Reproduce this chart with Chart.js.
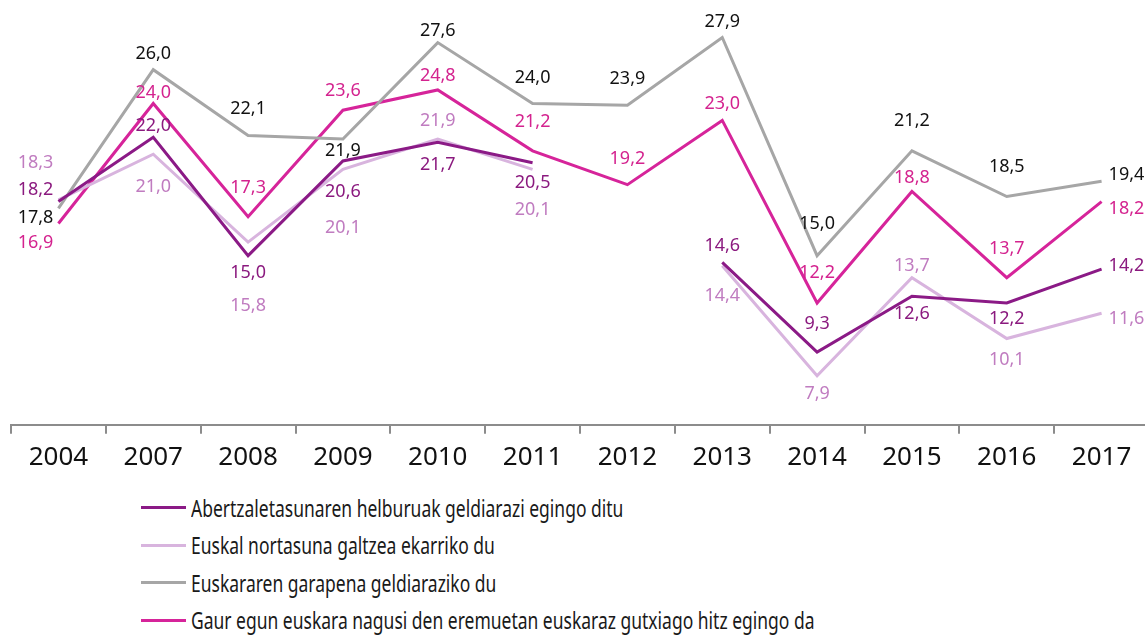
<!DOCTYPE html>
<html>
<head>
<meta charset="utf-8">
<script src="https://cdn.jsdelivr.net/npm/chart.js@4"></script>
<style>
  html, body { margin: 0; padding: 0; background: #fff; overflow: hidden; }
  #wrap { position: relative; width: 1150px; height: 481px; }
  #legend { margin: 8px 0 0 141px; font-family: "Noto Sans", "DejaVu Sans Condensed", sans-serif; font-size: 23px; color: #1a1a1a; }
  #legend div { display: flex; align-items: center; height: 37.5px; white-space: nowrap; }
  #legend span.line { display: inline-block; width: 45px; height: 3px; margin-right: 5px; flex: none; }
  #legend span.txt { display: inline-block; transform: scaleX(0.76); transform-origin: left center; }
</style>
</head>
<body>
<div id="wrap"><canvas id="lineChart"></canvas></div>
<div id="legend"></div>
<script>
const FONT = '"Noto Sans", "DejaVu Sans Condensed", sans-serif';

const years = ['2004', '2007', '2008', '2009', '2010', '2011', '2012', '2013', '2014', '2015', '2016', '2017'];

const abertzaletasuna = [18.2, 22.0, 15.0, 20.6, 21.7, 20.5, null, 14.6, 9.3, 12.6, 12.2, 14.2];
const nortasuna = [18.3, 21.0, 15.8, 20.1, 21.9, 20.1, null, 14.4, 7.9, 13.7, 10.1, 11.6];
const garapena = [17.8, 26.0, 22.1, 21.9, 27.6, 24.0, 23.9, 27.9, 15.0, 21.2, 18.5, 19.4];
const eremuak = [16.9, 24.0, 17.3, 23.6, 24.8, 21.2, 19.2, 23.0, 12.2, 18.8, 13.7, 18.2];

const seriesNames = [
  'Abertzaletasunaren helburuak geldiarazi egingo ditu',
  'Euskal nortasuna galtzea ekarriko du',
  'Euskararen garapena geldiaraziko du',
  'Gaur egun euskara nagusi den eremuetan euskaraz gutxiago hitz egingo da'
];

// where each value label sits relative to its point (px, y down)
const labelDy = [
  [-12, -11, 17, 31, 23, 20, 0, -17, -28, 18, 16, -3],
  [-37, 33, 64, 58, -18, 40, 0, 30, 18, -12, 21, 6],
  [10, -16, -27, 12, -12, -26, -26, -16, -32, -30, -30, -6],
  [19, -11, -29, -19, -14, -29, -26, -17, -30, -14, -29, 7]
];

const lineColors = ['#8B1A86', '#D8B4DE', '#A6A6A6', '#D6249A'];
const labelColors = ['#8B1A7F', '#C07CC0', '#111111', '#D4238F'];

const fmt = v => v.toFixed(1).replace('.', ',');

const valueLabels = {
  id: 'valueLabels',
  afterDatasetsDraw(chart) {
    const ctx = chart.ctx;
    ctx.save();
    ctx.font = '18px ' + FONT;
    ctx.textBaseline = 'middle';
    chart.data.datasets.forEach((ds, i) => {
      const meta = chart.getDatasetMeta(i);
      meta.data.forEach((pt, j) => {
        const v = ds.data[j];
        if (v === null) return;
        let x = pt.x;
        ctx.textAlign = 'center';
        if (j === 0) { ctx.textAlign = 'right'; x = pt.x - 5; }
        if (j === ds.data.length - 1) { ctx.textAlign = 'left'; x = pt.x + 7; }
        ctx.fillStyle = labelColors[i];
        ctx.fillText(fmt(v), x, pt.y + labelDy[i][j]);
      });
    });
    ctx.restore();
  }
};

const datasets = [abertzaletasuna, nortasuna, garapena, eremuak].map((d, i) => ({
  label: seriesNames[i],
  data: d,
  borderColor: lineColors[i],
  backgroundColor: lineColors[i],
  borderWidth: 3,
  pointRadius: 0,
  tension: 0,
  spanGaps: false
}));

new Chart(document.getElementById('lineChart'), {
  type: 'line',
  data: { labels: years, datasets },
  options: {
    responsive: true,
    maintainAspectRatio: false,
    animation: false,
    layout: { padding: { left: 11, right: 1, top: 2, bottom: 0 } },
    plugins: {
      legend: { display: false },
      tooltip: { enabled: false }
    },
    scales: {
      x: {
        offset: true,
        border: { display: true, color: '#8C8C8C', width: 2 },
        grid: { offset: true, drawOnChartArea: false, drawTicks: true, tickLength: 9, color: '#8C8C8C', lineWidth: 2 },
        ticks: { color: '#111', font: { family: FONT, size: 26 }, padding: 8 }
      },
      y: {
        display: false,
        min: 5,
        max: 30
      }
    }
  },
  plugins: [valueLabels]
});

const legend = document.getElementById('legend');
seriesNames.forEach((name, i) => {
  const row = document.createElement('div');
  row.innerHTML = '<span class="line" style="background:' + lineColors[i] + '"></span><span class="txt">' + name + '</span>';
  legend.appendChild(row);
});
</script>
</body>
</html>
